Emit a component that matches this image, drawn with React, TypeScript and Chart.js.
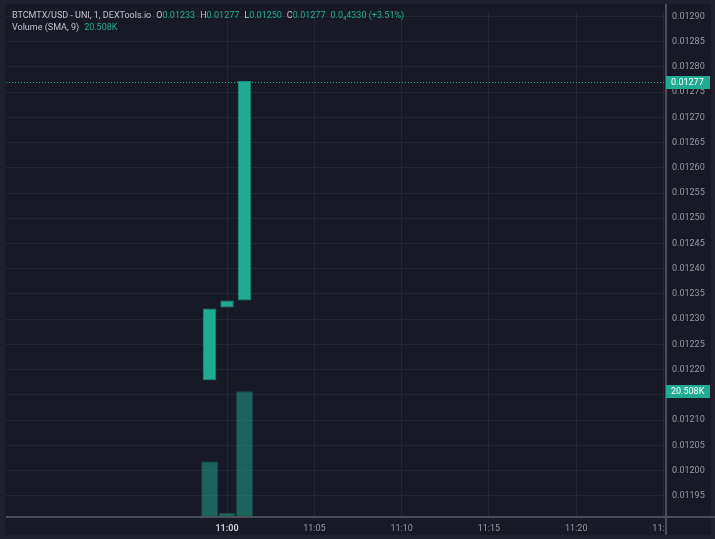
import { useEffect, useRef } from 'react';
import { Chart, registerables } from 'chart.js';
Chart.register(...registerables);

// minutes relative to 11:00
const times = [-1, 0, 1];
const opens = [0.012179, 0.012323, 0.012337];
const closes = [0.012321, 0.012337, 0.012772];
const volumes = [9040, 650, 20508];
const xTickMinutes = [0, 5, 10, 15, 20, 25];
const priceTicks = [
  0.01195, 0.012, 0.01205, 0.0121, 0.01215, 0.0122, 0.01225, 0.0123, 0.01235, 0.0124,
  0.01245, 0.0125, 0.01255, 0.0126, 0.01265, 0.0127, 0.01275, 0.0128, 0.01285, 0.0129,
];
const lastPrice = 0.01277;
const lastPriceLabel = '0.01277';
const volumeLabel = '20.508K';
const titleText = 'BTCMTX/USD - UNI, 1, DEXTools.io';
const ohlcLabels = ['O', 'H', 'L', 'C'];
const ohlcValues = ['0.01233', '0.01277', '0.01250', '0.01277'];
const changeText = '0.0\u20844330 (+3.51%)';
const volumeTitle = 'Volume (SMA, 9)';

const TEAL = '#22ab94';
const OUTER = '#1e212d';
const INNER = '#171a26';
const TEXT = '#c0c2ca';
const FONT = 'Roboto, "DejaVu Sans", sans-serif';

const framePlugin = {
  id: 'tvframe',
  beforeDraw(chart: any) {
    const ctx = chart.ctx;
    ctx.save();
    ctx.fillStyle = OUTER;
    ctx.fillRect(0, 0, chart.width, chart.height);
    ctx.fillStyle = INNER;
    ctx.fillRect(5, 4, 706, 531);
    ctx.restore();
  },
  afterDraw(chart: any) {
    const ctx = chart.ctx;
    const area = chart.chartArea;
    const y = chart.scales.y;
    const yv = chart.scales.yv;
    ctx.save();
    // cover clipped tick label right of price axis
    ctx.fillStyle = INNER;
    ctx.fillRect(area.right + 1, area.bottom + 2, 711 - area.right - 1, 535 - area.bottom - 2);
    // last price dotted line
    const py = Math.round(y.getPixelForValue(lastPrice)) + 0.5;
    ctx.strokeStyle = TEAL;
    ctx.lineWidth = 1;
    ctx.setLineDash([1, 2]);
    ctx.beginPath();
    ctx.moveTo(area.left, py);
    ctx.lineTo(area.right, py);
    ctx.stroke();
    ctx.setLineDash([]);
    // axis lines
    ctx.fillStyle = '#4b4e59';
    ctx.fillRect(area.left, area.bottom - 1, 715 - area.left, 2);
    ctx.fillRect(area.right - 1, 4, 2, 531);
    // labels on price axis
    ctx.font = `9px ${FONT}`;
    ctx.textBaseline = 'middle';
    ctx.textAlign = 'left';
    const drawBox = (cy: number, text: string) => {
      ctx.fillStyle = TEAL;
      ctx.fillRect(area.right, Math.round(cy) - 6, 44, 13);
      ctx.fillStyle = '#ffffff';
      ctx.fillText(text, area.right + 5, Math.round(cy) + 0.5);
    };
    drawBox(y.getPixelForValue(lastPrice), lastPriceLabel);
    drawBox(yv.getPixelForValue(volumes[volumes.length - 1]), volumeLabel);
    // legend
    ctx.font = `9px ${FONT}`;
    let x = 12;
    const put = (t: string, c: string, ly: number) => {
      ctx.fillStyle = c;
      ctx.fillText(t, x, ly);
      x += ctx.measureText(t).width;
    };
    put(titleText, TEXT, 16);
    x += 5;
    ohlcLabels.forEach((l, i) => {
      put(l, TEXT, 16);
      put(ohlcValues[i], TEAL, 16);
      x += 5;
    });
    put(changeText, TEAL, 16);
    x = 12;
    put(volumeTitle, TEXT, 28);
    x += 5;
    put(volumeLabel, TEAL, 28);
    ctx.restore();
  },
};

export default function App() {
  const ref = useRef<HTMLCanvasElement>(null);
  useEffect(() => {
    document.body.style.margin = '0';
    const candleData = times.map((t, i) => ({ x: t, y: [opens[i], closes[i]] }));
    const volumeData = times.map((t, i) => ({ x: t, y: volumes[i] }));
    const chart = new Chart(ref.current!, {
      type: 'bar',
      data: {
        datasets: [
          {
            label: 'price',
            data: candleData as any,
            yAxisID: 'y',
            backgroundColor: TEAL,
            borderColor: '#1b8e7b',
            borderWidth: 1,
            borderSkipped: false,
            grouped: false,
            order: 1,
            barPercentage: 0.77,
            categoryPercentage: 1,
          } as any,
          {
            label: 'volume',
            data: volumeData as any,
            yAxisID: 'yv',
            backgroundColor: 'rgba(34,171,148,0.5)',
            borderColor: 'rgba(34,171,148,0.35)',
            borderWidth: 1,
            borderSkipped: 'bottom',
            grouped: false,
            order: 2,
            barPercentage: 0.96,
            categoryPercentage: 1,
          } as any,
        ],
      },
      plugins: [framePlugin],
      options: {
        responsive: false,
        animation: false,
        devicePixelRatio: 1,
        layout: { padding: { left: 6, top: 0, right: 0, bottom: 0 } },
        plugins: { legend: { display: false }, tooltip: { enabled: false } },
        scales: {
          x: {
            type: 'linear',
            offset: false,
            min: -12.66,
            max: 25.14,
            afterBuildTicks: (axis: any) => {
              axis.ticks = xTickMinutes.map((v) => ({ value: v }));
            },
            afterFit: (axis: any) => {
              axis.height = 22;
            },
            grid: { color: '#232633', drawTicks: false, offset: false },
            border: { display: false },
            ticks: {
              padding: 6,
              maxRotation: 0,
              autoSkip: false,
              color: (c: any) => (c.tick && c.tick.value === 0 ? '#c8cad0' : '#9598a1'),
              font: (c: any) => ({
                size: 9,
                family: FONT,
                weight: c.tick && c.tick.value === 0 ? 'bold' : 'normal',
              }),
              callback: (v: any) => '11:' + String(v).padStart(2, '0'),
            },
          },
          y: {
            type: 'linear',
            position: 'right',
            min: 0.0119079,
            max: 0.0129099,
            afterBuildTicks: (axis: any) => {
              axis.ticks = priceTicks.map((v) => ({ value: v }));
            },
            afterFit: (axis: any) => {
              axis.width = 49;
            },
            grid: { color: '#232633', drawTicks: false, offset: false },
            border: { display: false },
            ticks: {
              padding: 6,
              color: '#9598a1',
              font: { size: 9, family: FONT },
              callback: (v: any) => Number(v).toFixed(5),
            },
          },
          yv: {
            type: 'linear',
            display: false,
            min: 0,
            max: 82500,
          },
        },
      } as any,
    });
    return () => chart.destroy();
  }, []);
  return (
    <div style={{ width: 715, height: 539 }}>
      <canvas ref={ref} width={715} height={539} style={{ display: 'block', width: 715, height: 539 }} />
    </div>
  );
}
